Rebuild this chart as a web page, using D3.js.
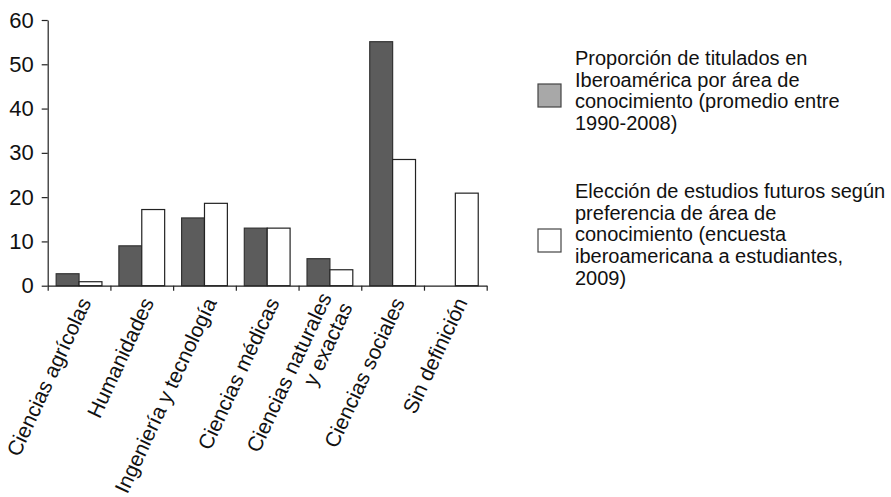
<!DOCTYPE html>
<html>
<head>
<meta charset="utf-8">
<script src="https://cdn.jsdelivr.net/npm/d3@7"></script>
<style>
  html, body { margin: 0; padding: 0; background: #fff; }
  svg { display: block; }
  text { font-family: "Liberation Sans", Arial, sans-serif; fill: #111; }
</style>
</head>
<body>
<svg id="chart" width="891" height="497"></svg>
<script>
// ---- data ----
const categories = ["Ciencias agrícolas", "Humanidades", "Ingeniería y tecnología", "Ciencias médicas", "Ciencias naturales y exactas", "Ciencias sociales", "Sin definición"];
const tickLabels = [["Ciencias agrícolas"], ["Humanidades"], ["Ingeniería y tecnología"], ["Ciencias médicas"], ["Ciencias naturales", "y exactas"], ["Ciencias sociales"], ["Sin definición"]];
const titulados = [2.7, 9.0, 15.3, 13.0, 6.1, 55.1, 0];
const eleccion = [0.9, 17.2, 18.6, 13.0, 3.6, 28.5, 20.9];
const yTicks = [0, 10, 20, 30, 40, 50, 60];
const legendTitulados = ["Proporción de titulados en", "Iberoamérica por área de", "conocimiento (promedio entre", "1990-2008)"];
const legendEleccion = ["Elección de estudios futuros según", "preferencia de área de", "conocimiento (encuesta", "iberoamericana a estudiantes,", "2009)"];

// ---- layout ----
const svg = d3.select("#chart");
const mLeft = 47.7, mRight = 486.7, mTop = 20, mBottom = 285.7;
const pad = 0.27;

const x = d3.scaleBand().domain(categories).range([mLeft, mRight]).paddingInner(pad).paddingOuter(pad / 2);
const x1 = d3.scaleBand().domain([0, 1]).range([0, x.bandwidth()]);
const y = d3.scaleLinear().domain([0, 60]).range([mBottom, mTop]);
const bnd = d3.scaleLinear().domain([0, categories.length]).range([mLeft, mRight]);

const series = [
  { values: titulados, fill: "#5c5c5c", stroke: "#333" },
  { values: eleccion, fill: "#ffffff", stroke: "#222" }
];

// bars
series.forEach((s, si) => {
  svg.append("g").selectAll("rect")
    .data(categories)
    .join("rect")
    .attr("x", (c) => x(c) + x1(si))
    .attr("y", (c, i) => y(s.values[i]))
    .attr("width", x1.bandwidth())
    .attr("height", (c, i) => y(0) - y(s.values[i]))
    .attr("fill", s.fill)
    .attr("stroke", s.stroke)
    .attr("stroke-width", 1.2);
});

// y axis
const yAxis = svg.append("g")
  .attr("transform", `translate(${mLeft},0)`)
  .call(d3.axisLeft(y).tickValues(yTicks).tickSize(6).tickSizeOuter(0).tickPadding(8));
yAxis.attr("font-size", null).attr("font-family", null);
yAxis.selectAll("path, line").attr("stroke", "#222").attr("stroke-width", 1.2);
yAxis.selectAll("text").style("font-size", "22px").attr("fill", "#111");

// x axis (ticks at category boundaries)
const xAxis = svg.append("g")
  .attr("transform", `translate(0,${mBottom})`)
  .call(d3.axisBottom(bnd).tickValues(d3.range(categories.length + 1)).tickSize(5).tickSizeOuter(0).tickFormat(""));
xAxis.selectAll("path, line").attr("stroke", "#222").attr("stroke-width", 1.2);

// rotated category labels
const angle = -65;
const labelG = svg.append("g");
categories.forEach((c, i) => {
  const lines = tickLabels[i];
  const cx = x(c) + x.bandwidth() / 2;
  const t = labelG.append("text")
    .attr("transform", `translate(${cx + 6},299) rotate(${angle})`)
    .attr("text-anchor", "end")
    .style("font-size", "21px");
  lines.forEach((ln, li) => {
    t.append("tspan")
      .attr("x", 0)
      .attr("dy", li === 0 ? `${0.35 - (lines.length - 1) * 0.55}em` : "1.1em")
      .text(ln);
  });
});

// legend
const legend = [
  { lines: legendTitulados, fill: "#a8a8a8", stroke: "#444", y0: 65, sw: 84 },
  { lines: legendEleccion, fill: "#ffffff", stroke: "#444", y0: 198, sw: 229 }
];
legend.forEach((l) => {
  svg.append("rect")
    .attr("x", 538).attr("y", l.sw).attr("width", 23).attr("height", 23)
    .attr("fill", l.fill).attr("stroke", l.stroke).attr("stroke-width", 1.2);
  const t = svg.append("text").attr("x", 575).attr("y", l.y0).style("font-size", "20px");
  l.lines.forEach((ln, li) => {
    t.append("tspan").attr("x", 575).attr("dy", li === 0 ? 0 : 21.7).text(ln);
  });
});
</script>
</body>
</html>
